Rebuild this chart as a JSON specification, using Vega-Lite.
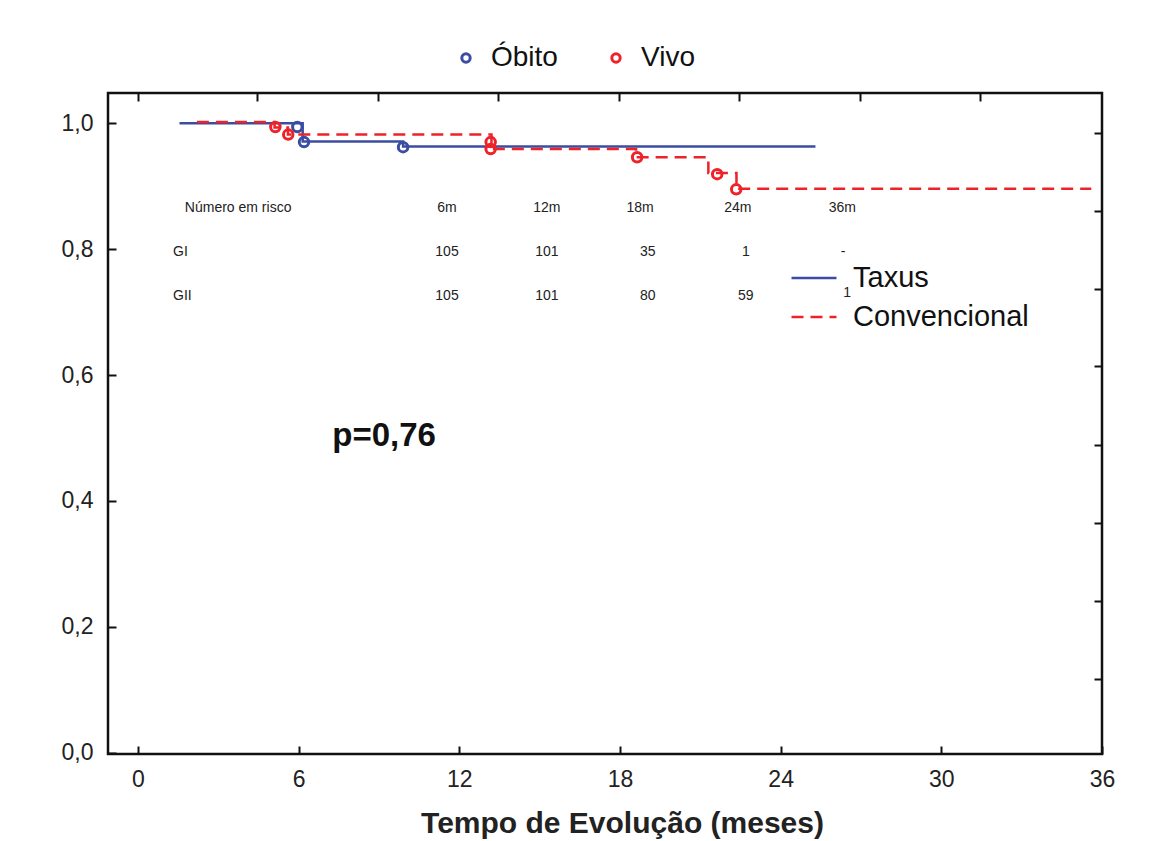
{
  "$schema": "https://vega.github.io/schema/vega-lite/v6.json",
  "width": 994,
  "height": 661,
  "autosize": {"type": "none"},
  "padding": {"left": 108, "top": 93, "right": 59, "bottom": 87},
  "background": "white",
  "config": {
    "view": {"stroke": "#111111", "strokeWidth": 2.5},
    "font": "Liberation Sans",
    "axis": {"domain": false, "grid": false, "tickColor": "#111111", "tickWidth": 2, "labelColor": "#222222", "labelFont": "Liberation Sans", "labelFontSize": 23}
  },
  "datasets": {
    "curvas": [
      {"t": 1.55, "s": 1.0, "grupo": "Taxus"},
      {"t": 6.15, "s": 0.971, "grupo": "Taxus"},
      {"t": 9.9, "s": 0.963, "grupo": "Taxus"},
      {"t": 25.3, "s": 0.963, "grupo": "Taxus"},
      {"t": 2.2, "s": 1.002, "grupo": "Convencional"},
      {"t": 5.1, "s": 0.993, "grupo": "Convencional"},
      {"t": 5.6, "s": 0.982, "grupo": "Convencional"},
      {"t": 13.2, "s": 0.959, "grupo": "Convencional"},
      {"t": 18.6, "s": 0.946, "grupo": "Convencional"},
      {"t": 21.3, "s": 0.921, "grupo": "Convencional"},
      {"t": 22.35, "s": 0.896, "grupo": "Convencional"},
      {"t": 35.6, "s": 0.896, "grupo": "Convencional"}
    ],
    "marcas": [
      {"t": 5.95, "s": 0.994, "evento": "Óbito"},
      {"t": 6.2, "s": 0.970, "evento": "Óbito"},
      {"t": 9.9, "s": 0.962, "evento": "Óbito"},
      {"t": 5.13, "s": 0.994, "evento": "Vivo"},
      {"t": 5.61, "s": 0.982, "evento": "Vivo"},
      {"t": 13.17, "s": 0.970, "evento": "Vivo"},
      {"t": 13.17, "s": 0.959, "evento": "Vivo"},
      {"t": 18.64, "s": 0.946, "evento": "Vivo"},
      {"t": 21.63, "s": 0.919, "evento": "Vivo"},
      {"t": 22.34, "s": 0.895, "evento": "Vivo"}
    ],
    "tabela": [
      {"t": 1.75, "s": 0.865, "texto": "Número em risco", "al": "left"},
      {"t": 11.54, "s": 0.865, "texto": "6m", "al": "center"},
      {"t": 15.27, "s": 0.865, "texto": "12m", "al": "center"},
      {"t": 18.75, "s": 0.865, "texto": "18m", "al": "center"},
      {"t": 22.4, "s": 0.865, "texto": "24m", "al": "center"},
      {"t": 26.3, "s": 0.865, "texto": "36m", "al": "center"},
      {"t": 1.31, "s": 0.795, "texto": "GI", "al": "left"},
      {"t": 11.54, "s": 0.795, "texto": "105", "al": "center"},
      {"t": 15.27, "s": 0.795, "texto": "101", "al": "center"},
      {"t": 19.04, "s": 0.795, "texto": "35", "al": "center"},
      {"t": 22.7, "s": 0.795, "texto": "1", "al": "center"},
      {"t": 26.33, "s": 0.795, "texto": "-", "al": "center"},
      {"t": 1.31, "s": 0.725, "texto": "GII", "al": "left"},
      {"t": 11.54, "s": 0.725, "texto": "105", "al": "center"},
      {"t": 15.27, "s": 0.725, "texto": "101", "al": "center"},
      {"t": 19.04, "s": 0.725, "texto": "80", "al": "center"},
      {"t": 22.7, "s": 0.725, "texto": "59", "al": "center"},
      {"t": 26.48, "s": 0.731, "texto": "1", "al": "center"}
    ],
    "pvalor": [
      {"t": 9.19, "s": 0.503, "texto": "p=0,76"}
    ]
  },
  "resolve": {"axis": {"x": "independent", "y": "independent"}},
  "layer": [
    {
      "data": {"name": "curvas"},
      "mark": {"type": "line", "interpolate": "step-after", "strokeWidth": 2.5},
      "encoding": {
        "x": {"field": "t", "type": "quantitative",
          "scale": {"domain": [-1.12, 36], "nice": false, "zero": false},
          "axis": {"orient": "bottom", "values": [0, 6, 12, 18, 24, 30, 36], "tickSize": -8, "labelPadding": 22, "labelFlush": false, "title": "Tempo de Evolução (meses)", "titleFontSize": 30, "titleFontWeight": "bold", "titleColor": "#222222", "titlePadding": 17, "titleX": 514, "titleAlign": "center"}},
        "y": {"field": "s", "type": "quantitative",
          "scale": {"domain": [-0.002, 1.048], "nice": false, "zero": false},
          "axis": {"orient": "left", "values": [0, 0.2, 0.4, 0.6, 0.8, 1.0], "tickSize": -8, "labelPadding": 23, "labelExpr": "replace(format(datum.value, '.1f'), '.', ',')", "title": null}},
        "stroke": {"field": "grupo", "type": "nominal",
          "scale": {"domain": ["Taxus", "Convencional"], "range": ["#3b4da3", "#ee2229"]},
          "legend": {"orient": "none", "legendX": 682, "legendY": 161, "title": null, "symbolType": "stroke", "symbolSize": 2025, "symbolStrokeWidth": 2.5, "labelFontSize": 29, "labelColor": "#111111", "labelOffset": 15, "labelLimit": 400, "rowPadding": -7}},
        "strokeDash": {"field": "grupo", "type": "nominal",
          "scale": {"domain": ["Taxus", "Convencional"], "range": [[1, 0], [12, 7]]},
          "legend": {"orient": "none", "legendX": 682, "legendY": 161, "title": null, "symbolType": "stroke", "symbolSize": 2025, "symbolStrokeWidth": 2.5, "labelFontSize": 29, "labelColor": "#111111", "labelOffset": 15, "labelLimit": 400, "rowPadding": -7}}
      }
    },
    {
      "data": {"name": "marcas"},
      "mark": {"type": "point", "shape": "circle", "filled": false, "size": 90, "strokeWidth": 3, "opacity": 1},
      "encoding": {
        "x": {"field": "t", "type": "quantitative",
          "axis": {"orient": "top", "values": [0, 4.45, 8.95, 13.45, 17.95, 22.45, 26.95, 31.45], "tickSize": -8, "labels": false, "title": null}},
        "y": {"field": "s", "type": "quantitative",
          "axis": {"orient": "right", "values": [0.117, 0.241, 0.365, 0.489, 0.614, 0.737, 0.86, 0.984], "tickSize": -8, "labels": false, "title": null}},
        "color": {"field": "evento", "type": "nominal",
          "scale": {"domain": ["Óbito", "Vivo"], "range": ["#3b4da3", "#ee2229"]},
          "legend": {"orient": "none", "legendX": 344, "legendY": -49, "direction": "horizontal", "title": null, "symbolType": "circle", "symbolSize": 70, "symbolStrokeWidth": 3, "symbolOpacity": 1, "labelFontSize": 28, "labelColor": "#111111", "labelOffset": 11, "columnPadding": 44}}
      }
    },
    {
      "data": {"name": "tabela"},
      "transform": [{"filter": "datum.al === 'left'"}],
      "mark": {"type": "text", "fontSize": 14, "color": "#222222", "baseline": "middle", "align": "left"},
      "encoding": {
        "x": {"field": "t", "type": "quantitative", "axis": null},
        "y": {"field": "s", "type": "quantitative", "axis": null},
        "text": {"field": "texto"}
      }
    },
    {
      "data": {"name": "tabela"},
      "transform": [{"filter": "datum.al === 'center'"}],
      "mark": {"type": "text", "fontSize": 14, "color": "#222222", "baseline": "middle", "align": "center"},
      "encoding": {
        "x": {"field": "t", "type": "quantitative", "axis": null},
        "y": {"field": "s", "type": "quantitative", "axis": null},
        "text": {"field": "texto"}
      }
    },
    {
      "data": {"name": "pvalor"},
      "mark": {"type": "text", "fontSize": 33, "fontWeight": "bold", "color": "#111111", "align": "center", "baseline": "middle"},
      "encoding": {
        "x": {"field": "t", "type": "quantitative", "axis": null},
        "y": {"field": "s", "type": "quantitative", "axis": null},
        "text": {"field": "texto"}
      }
    }
  ]
}
